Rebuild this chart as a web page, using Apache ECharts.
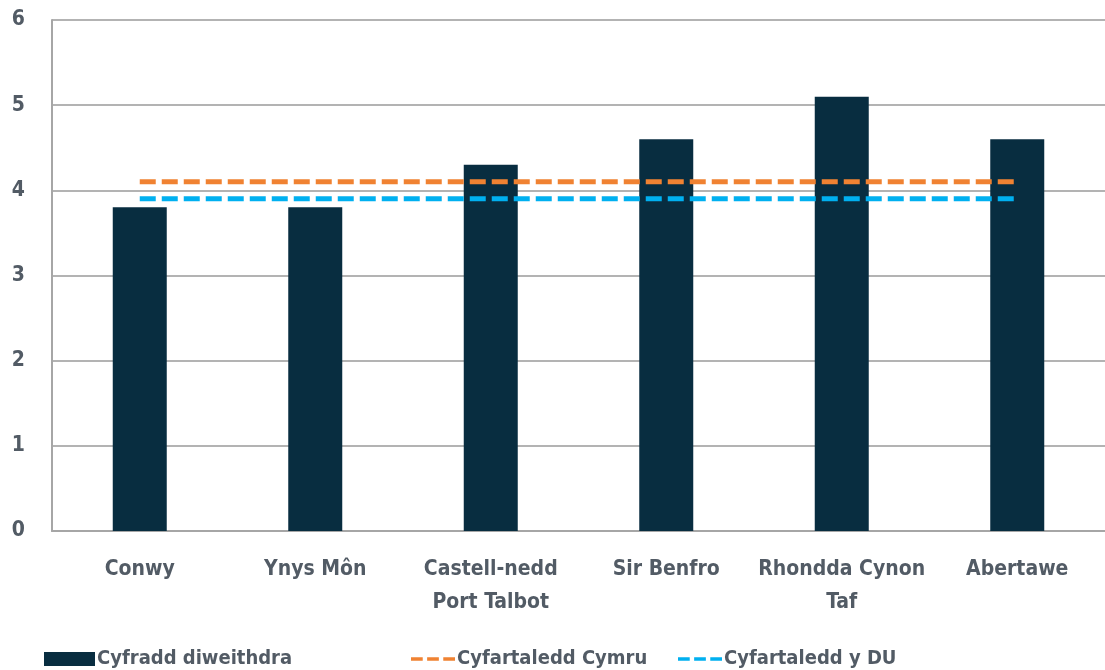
<!DOCTYPE html>
<html>
<head>
<meta charset="utf-8">
<script src="https://cdn.jsdelivr.net/npm/echarts@6/dist/echarts.min.js"></script>
<style>
html,body{margin:0;padding:0;background:#fff;}
#c{width:1105px;height:670px;}
</style>
</head>
<body>
<div id="c"></div>
<script>
const categories = ["Conwy", "Ynys Môn", "Castell-nedd\nPort Talbot", "Sir Benfro", "Rhondda Cynon\nTaf", "Abertawe"];
const rateValues = [3.8, 3.8, 4.3, 4.6, 5.1, 4.6];
const walesAverage = [4.1, 4.1, 4.1, 4.1, 4.1, 4.1];
const ukAverage = [3.9, 3.9, 3.9, 3.9, 3.9, 3.9];
const seriesNames = ["Cyfradd diweithdra", "Cyfartaledd Cymru", "Cyfartaledd y DU"];

const FONT = "'Liberation Sans Narrow', 'DejaVu Sans Condensed', 'Noto Sans', sans-serif";
const TXT = '#525b65';
const dashIcon = 'path://M0,0h16v5H0z M22,0h16v5H22z M44,0h16v5H44z';
const legendText = {fontFamily: FONT, fontWeight: 'bold', fontSize: 20, color: TXT, padding: [0,0,0,-3]};

const chart = echarts.init(document.getElementById('c'), null, {renderer: 'canvas'});
chart.setOption({
  animation: false,
  backgroundColor: '#ffffff',
  textStyle: {fontFamily: FONT},
  grid: {left: 52, right: 0, top: 20, bottom: 139, containLabel: false, outerBoundsMode: 'none'},
  legend: [
    {data: [seriesNames[0]], left: 44, top: 649, itemWidth: 51, itemHeight: 14, icon: 'rect', padding: 0,
     textStyle: legendText},
    {data: [{name: seriesNames[1], icon: dashIcon}], left: 411, top: 649, itemWidth: 44, itemHeight: 5, padding: 0,
     textStyle: legendText},
    {data: [{name: seriesNames[2], icon: dashIcon}], left: 678, top: 649, itemWidth: 44, itemHeight: 5, padding: 0,
     textStyle: legendText}
  ],
  xAxis: {
    type: 'category',
    data: categories,
    axisTick: {show: false},
    axisLine: {show: true, lineStyle: {color: '#a6a6a6', width: 2}},
    axisLabel: {fontFamily: FONT, fontWeight: 'bold', fontSize: 21, color: TXT, margin: 22, lineHeight: 33, interval: 0}
  },
  yAxis: {
    type: 'value',
    min: 0, max: 6, interval: 1,
    axisLine: {show: true, lineStyle: {color: '#a6a6a6', width: 2}},
    axisTick: {show: false},
    axisLabel: {fontFamily: FONT, fontWeight: 'bold', fontSize: 21, color: TXT, margin: 27},
    splitLine: {show: true, lineStyle: {color: '#b3b3b3', width: 2}}
  },
  series: [
    {name: seriesNames[0], type: 'bar', data: rateValues, barWidth: 54,
     itemStyle: {color: '#082d40'}},
    {name: seriesNames[1], type: 'line', data: walesAverage, symbol: 'none', showSymbol: false,
     itemStyle: {color: '#f08232'},
     lineStyle: {color: '#f08232', width: 5, type: [16, 6], cap: 'butt'}},
    {name: seriesNames[2], type: 'line', data: ukAverage, symbol: 'none', showSymbol: false,
     itemStyle: {color: '#00b0f0'},
     lineStyle: {color: '#00b0f0', width: 5, type: [16, 6], cap: 'butt'}}
  ]
});
</script>
</body>
</html>
